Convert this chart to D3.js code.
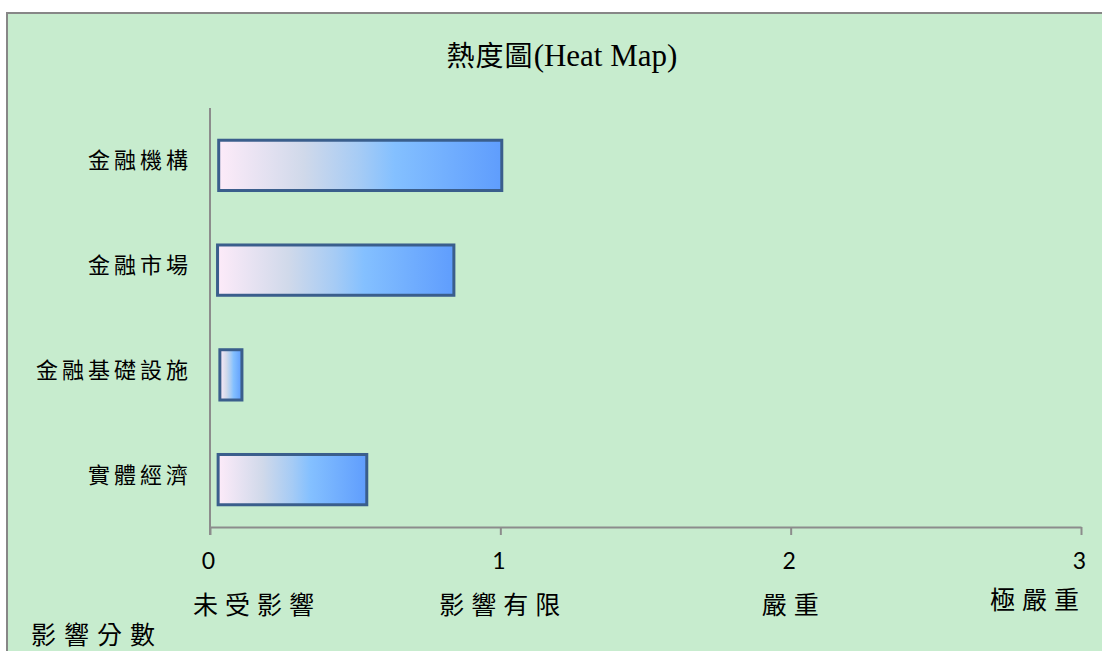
<html>
<head>
<meta charset="utf-8">
<style>
  body { margin: 0; background: #ffffff; }
  .cjk { font-family: "Noto Sans CJK TC", "Noto Sans CJK SC", sans-serif; }
</style>
</head>
<body>
<script src="https://cdn.jsdelivr.net/npm/d3@7"></script>
<script>
// chart data
var categories = ["金融機構", "金融市場", "金融基礎設施", "實體經濟"];
var barStart = [0.03, 0.026, 0.034, 0.028];
var barEnd = [1.005, 0.84, 0.11, 0.54];
var tickValues = [0, 1, 2, 3];
var levelLabels = ["未受影響", "影響有限", "嚴重", "極嚴重"];
var chartTitle = "熱度圖";
var chartTitleEn = "(Heat Map)";
var axisTitle = "影響分數";

var W = 1102, H = 651;
var plot = {left: 210, right: 1081, top: 108, bottom: 527};

var svg = d3.select("body").append("svg")
    .attr("width", W)
    .attr("height", H);

// chart area background + border (runs off the right/bottom of the picture)
svg.append("rect")
    .attr("x", 7).attr("y", 13)
    .attr("width", W + 20).attr("height", H + 20)
    .attr("fill", "#c7ecce")
    .attr("stroke", "#878787")
    .attr("stroke-width", 2);

var defs = svg.append("defs");
var grad = defs.append("linearGradient")
    .attr("id", "barGrad")
    .attr("x1", "0%").attr("x2", "100%")
    .attr("y1", "0%").attr("y2", "0%");
grad.append("stop").attr("offset", "0%").attr("stop-color", "#fdebf9");
grad.append("stop").attr("offset", "30%").attr("stop-color", "#d0d9ea");
grad.append("stop").attr("offset", "50%").attr("stop-color", "#a5cbf5");
grad.append("stop").attr("offset", "62%").attr("stop-color", "#84c0ff");
grad.append("stop").attr("offset", "100%").attr("stop-color", "#5f9dfd");

var x = d3.scaleLinear()
    .domain([0, 3])
    .range([plot.left, plot.right]);

var y = d3.scaleBand()
    .domain(categories)
    .range([plot.top, plot.bottom])
    .paddingInner(0.52)
    .paddingOuter(0.26);

var yc = d3.scaleBand()
    .domain(categories)
    .range([plot.top, plot.bottom]);

// title
var title = svg.append("text")
    .attr("x", 562)
    .attr("y", 66)
    .attr("text-anchor", "middle")
    .attr("fill", "#000");
title.append("tspan")
    .attr("class", "cjk")
    .attr("font-size", 28)
    .attr("letter-spacing", 1)
    .text(chartTitle);
title.append("tspan")
    .attr("font-family", "'Liberation Serif', 'Times New Roman', serif")
    .attr("font-size", 31)
    .text(chartTitleEn);

// bars
var bars = categories.map(function(c, i) {
  return {cat: c, start: barStart[i], end: barEnd[i]};
});

svg.append("g")
  .selectAll("rect")
  .data(bars)
  .enter().append("rect")
    .attr("x", function(d) { return x(d.start); })
    .attr("y", function(d) { return y(d.cat) + 5; })
    .attr("width", function(d) { return x(d.end) - x(d.start); })
    .attr("height", y.bandwidth())
    .attr("fill", "url(#barGrad)")
    .attr("stroke", "#3a5e8c")
    .attr("stroke-width", 3);

// y axis line
svg.append("line")
    .attr("x1", plot.left).attr("x2", plot.left)
    .attr("y1", plot.top).attr("y2", plot.bottom + 8)
    .attr("stroke", "#8c8c8c")
    .attr("stroke-width", 2);

// x axis
var xAxis = svg.append("g")
    .attr("transform", "translate(0," + plot.bottom + ")")
    .call(d3.axisBottom(x).tickValues(tickValues).tickSizeInner(8).tickSizeOuter(0).tickFormat(d3.format("d")));
xAxis.select(".domain").attr("stroke", "#8c8c8c").attr("stroke-width", 2);
xAxis.selectAll(".tick line").attr("stroke", "#8c8c8c").attr("stroke-width", 2);
xAxis.selectAll(".tick text")
    .attr("y", 26)
    .attr("dx", -2)
    .attr("dy", "0.71em")
    .attr("font-family", "Lato, 'Open Sans', sans-serif")
    .attr("font-size", 23)
    .attr("fill", "#000");

// category labels
svg.append("g")
  .selectAll("text")
  .data(categories)
  .enter().append("text")
    .attr("class", "cjk")
    .attr("x", 192)
    .attr("y", function(d) { return yc(d) + yc.bandwidth() / 2; })
    .attr("dy", "0.36em")
    .attr("text-anchor", "end")
    .attr("font-size", 22)
    .attr("letter-spacing", 4)
    .attr("fill", "#000")
    .text(function(d) { return d; });

// level labels under ticks
svg.append("g")
  .selectAll("text")
  .data(levelLabels)
  .enter().append("text")
    .attr("class", "cjk")
    .attr("x", function(d, i) {
      if (i === 0) return x(tickValues[i]) - 17;
      if (i === levelLabels.length - 1) return x(tickValues[i]) + 5;
      return x(tickValues[i]) + 3;
    })
    .attr("y", function(d, i) { return i === levelLabels.length - 1 ? 600 : 605; })
    .attr("dy", "0.36em")
    .attr("text-anchor", function(d, i) {
      if (i === 0) return "start";
      if (i === levelLabels.length - 1) return "end";
      return "middle";
    })
    .attr("font-size", 25)
    .attr("letter-spacing", 7)
    .attr("fill", "#000")
    .text(function(d) { return d; });

// axis title
svg.append("text")
    .attr("class", "cjk")
    .attr("x", 31)
    .attr("y", 635)
    .attr("dy", "0.36em")
    .attr("font-size", 25)
    .attr("letter-spacing", 8)
    .attr("fill", "#000")
    .text(axisTitle);
</script>
</body>
</html>
